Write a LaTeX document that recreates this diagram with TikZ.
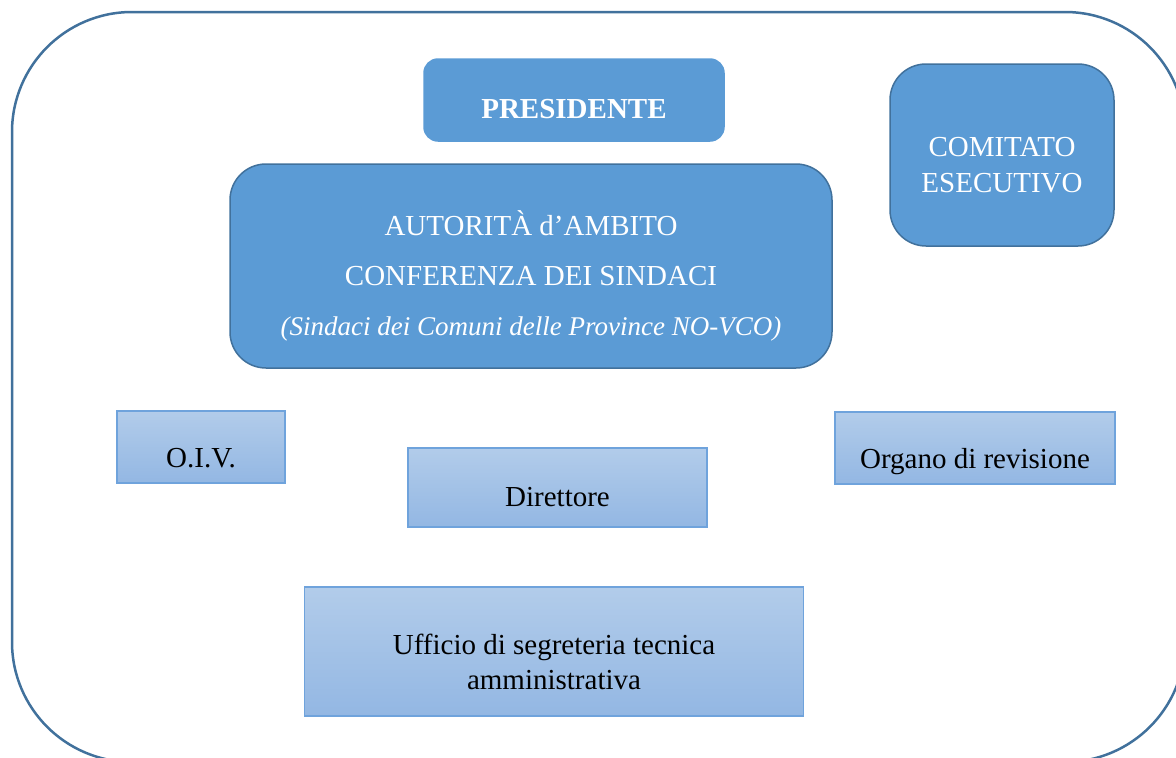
\documentclass[tikz,border=0pt]{standalone}
\usepackage{fontspec}
\setmainfont{Liberation Serif}
\definecolor{accent}{HTML}{5B9BD5}
\definecolor{accentdark}{HTML}{41719C}
\definecolor{lighttop}{HTML}{B2CCEA}
\definecolor{lightbot}{HTML}{93B7E3}
\definecolor{lightedge}{HTML}{6FA3DC}

\begin{document}
\begin{tikzpicture}[x=1pt, y=-1pt,
  darkbox/.style={fill=accent, draw=accentdark, line width=1.5pt, rounded corners=#1},
  lightbox/.style={top color=lighttop, bottom color=lightbot, draw=lightedge, line width=1.2pt},
  whitetxt/.style={text=white, align=center, inner sep=0pt},
  blacktxt/.style={text=black, align=center, inner sep=0pt}]
  \useasboundingbox (0, 0) rectangle (1176, 758);
  \clip (0, 0) rectangle (1176, 758);
  \draw[accentdark, line width=2.5pt, rounded corners=120pt] (12, 12) rectangle (1185, 762);

  % upper boxes
  \node[darkbox=14pt, draw=accent, minimum width=300pt, minimum height=82pt] (pres) at (574, 100) {};
  \node[darkbox=36pt, minimum width=602pt, minimum height=204pt] (autor) at (531, 266) {};
  \node[darkbox=36pt, minimum width=224pt, minimum height=182pt] (comit) at (1002, 155) {};

  \node[whitetxt, font=\fontsize{29}{35}\selectfont\bfseries] (pres-txt) at ([yshift=-9pt]pres.center) {PRESIDENTE};
  \node[whitetxt, font=\fontsize{29}{50}\selectfont] (autor-txt) at ([yshift=-10pt]autor.center)
    {AUTORITÀ d’AMBITO\\CONFERENZA DEI SINDACI\\{\fontsize{27}{50}\selectfont\itshape (Sindaci dei Comuni delle Province NO-VCO)}};
  \node[whitetxt, font=\fontsize{29}{36}\selectfont] (comit-txt) at ([yshift=-10pt]comit.center) {COMITATO\\ESECUTIVO};

  % lower boxes
  \node[lightbox, minimum width=168pt, minimum height=72pt] (oiv) at (201, 447) {};
  \node[lightbox, minimum width=299pt, minimum height=79pt] (dir) at (557.5, 487.5) {};
  \node[lightbox, minimum width=280pt, minimum height=72pt] (org) at (975, 448) {};
  \node[lightbox, minimum width=499pt, minimum height=129pt] (uff) at (554, 651.5) {};

  \node[blacktxt, font=\fontsize{29}{35}\selectfont] (oiv-txt) at ([yshift=-11pt]oiv.center) {O.I.V.};
  \node[blacktxt, font=\fontsize{29}{35}\selectfont] (dir-txt) at ([yshift=-10pt]dir.center) {Direttore};
  \node[blacktxt, font=\fontsize{29}{35}\selectfont] (org-txt) at ([yshift=-14pt]org.center) {Organo di revisione};
  \node[blacktxt, font=\fontsize{29}{35}\selectfont] (uff-txt) at ([yshift=-10pt]uff.center) {Ufficio di segreteria tecnica\\amministrativa};
\end{tikzpicture}
\end{document}
